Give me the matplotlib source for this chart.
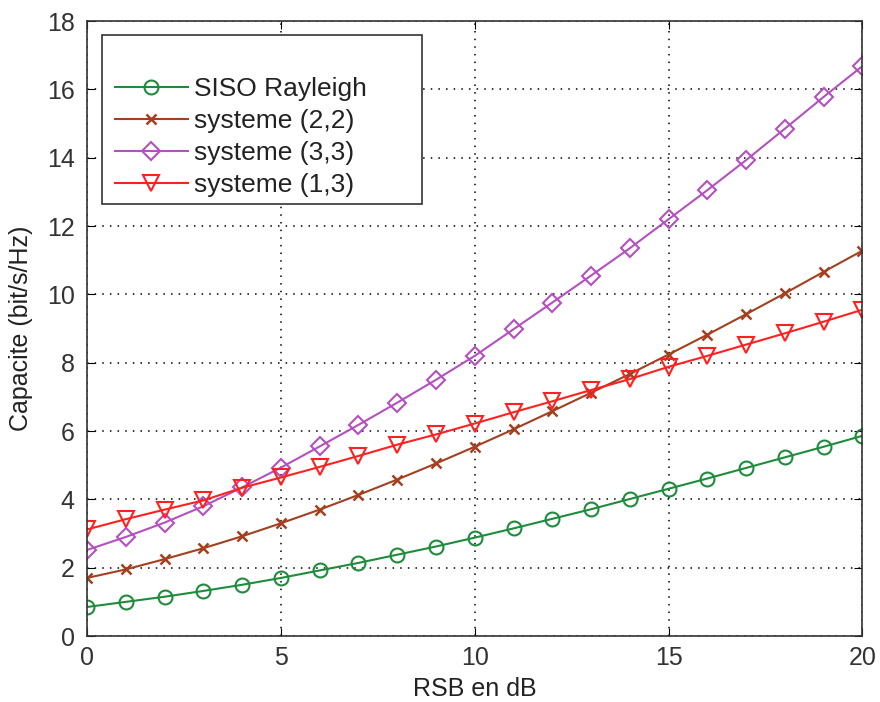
import matplotlib
matplotlib.use("Agg")
import matplotlib.pyplot as plt
from matplotlib.patches import Rectangle
import numpy as np

plt.rcParams.update({
    'font.family': ['Liberation Sans', 'DejaVu Sans'],
    'font.size': 18,
    'xtick.direction': 'in',
    'ytick.direction': 'in',
})

# RSB (dB)
rsb = np.arange(0, 21)

# capacites (bit/s/Hz)
siso = [0.85, 1.0, 1.15, 1.32, 1.5, 1.7, 1.92, 2.14, 2.38, 2.62, 2.88,
        3.15, 3.43, 3.71, 4.01, 4.31, 4.61, 4.92, 5.23, 5.54, 5.86]
sys22 = [1.7, 1.95, 2.25, 2.57, 2.92, 3.3, 3.7, 4.13, 4.58, 5.05, 5.54,
         6.05, 6.58, 7.12, 7.67, 8.24, 8.82, 9.42, 10.03, 10.66, 11.28]
sys33 = [2.52, 2.9, 3.32, 3.8, 4.35, 4.93, 5.55, 6.18, 6.83, 7.5, 8.2,
         8.98, 9.76, 10.55, 11.35, 12.2, 13.05, 13.93, 14.85, 15.78, 16.68]
sys13 = [3.12, 3.42, 3.7, 3.97, 4.34, 4.64, 4.95, 5.27, 5.6, 5.9, 6.22,
         6.55, 6.87, 7.2, 7.52, 7.88, 8.2, 8.53, 8.86, 9.2, 9.55]

fig = plt.figure(figsize=(8.8, 7.02), dpi=100)
ax = fig.add_axes([0.099, 0.094, 0.881, 0.876])

ax.plot(rsb, siso, color='#1e8c3c', marker='o', markersize=10,
        markerfacecolor='none', markeredgewidth=1.5, linewidth=1.5,
        label='SISO Rayleigh')
ax.plot(rsb, sys22, color='#a3401f', marker='x', markersize=7,
        markeredgewidth=1.8, linewidth=1.5, label='systeme (2,2)')
ax.plot(rsb, sys33, color='#b450c0', marker='D', markersize=9,
        markerfacecolor='none', markeredgewidth=1.5, linewidth=1.5,
        label='systeme (3,3)')
ax.plot(rsb, sys13, color='#ff2020', marker='v', markersize=11,
        markerfacecolor='none', markeredgewidth=1.5, linewidth=1.5,
        label='systeme (1,3)')

ax.set_xlim(0, 20)
ax.set_ylim(0, 18)
ax.set_xticks([0, 5, 10, 15, 20])
ax.set_yticks(np.arange(0, 19, 2))
ax.grid(True, color='black', linestyle=(0, (1, 4)), linewidth=1.1)
ax.tick_params(top=True, right=True, length=6, labelsize=18, labelcolor='#333333')
ax.tick_params(axis='y', pad=9)
ax.tick_params(axis='x', pad=7)
for s in ax.spines.values():
    s.set_color('#333333')
    s.set_linewidth(1.2)

ax.set_xlabel('RSB en dB', fontsize=18, labelpad=5, color='#222222')
ax.set_ylabel('Capacite (bit/s/Hz)', fontsize=18, labelpad=10, color='#222222')

# legende facon MATLAB : cadre plus large que le contenu
box = Rectangle((0.0194, 0.702), 0.412, 0.275, transform=ax.transAxes,
                facecolor='white', edgecolor='#333333', linewidth=1.2, zorder=4)
ax.add_patch(box)
leg = ax.legend(loc='center left', bbox_to_anchor=(0.036, 0.811),
                frameon=False, fontsize=19, borderpad=0, borderaxespad=0,
                handlelength=2.75, handletextpad=0.25, labelspacing=0.3)
leg.set_zorder(5)
for t in leg.get_texts():
    t.set_color('#222222')

fig.savefig('out.png', dpi=100, facecolor='white')
